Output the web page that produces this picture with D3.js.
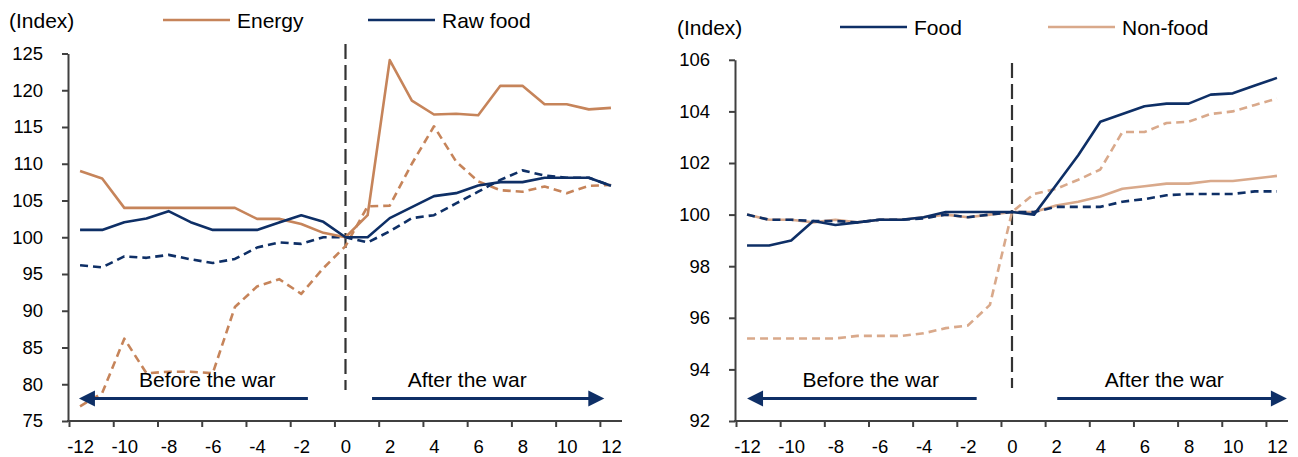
<!DOCTYPE html>
<html>
<head>
<meta charset="utf-8">
<script src="https://cdn.jsdelivr.net/npm/d3@7"></script>
<style>
  html, body { margin: 0; padding: 0; background: #fff; }
  svg { display: block; font-family: "Liberation Sans", Arial, sans-serif; }
</style>
</head>
<body>
<svg id="chart" width="1298" height="457"></svg>
<script>
// ---------- DATA ----------
const months = d3.range(-12, 13);               // -12 .. 12
const tickMonths = d3.range(-12, 13, 2);

// Left panel
const energy       = [109, 108, 104, 104, 104, 104, 104, 104, 102.5, 102.5, 101.8, 100.6, 100, 103, 124.1, 118.6, 116.7, 116.8, 116.6, 120.6, 120.6, 118.1, 118.1, 117.4, 117.6];
const energyDashed = [77, 78.8, 86.2, 81.5, 81.7, 81.7, 81.5, 90.5, 93.3, 94.3, 92.3, 95.8, 98.8, 104.2, 104.3, 110, 115.1, 110.3, 107.6, 106.4, 106.2, 106.9, 106.0, 107.0, 107.1];
const rawFood      = [101, 101, 102.05, 102.55, 103.55, 102.05, 101, 101, 101, 102, 103, 102.1, 100, 100, 102.6, 104.1, 105.6, 106, 107.05, 107.5, 107.5, 108.1, 108.1, 108.1, 107];
const rawFoodDashed= [96.2, 95.9, 97.4, 97.2, 97.6, 97.0, 96.5, 97.05, 98.6, 99.3, 99.1, 100, 100, 99.3, 100.8, 102.6, 103.0, 104.6, 106.2, 107.8, 109.1, 108.4, 108.1, 108.1, 107];
const leftYTicks   = [75, 80, 85, 90, 95, 100, 105, 110, 115, 120, 125];

// Right panel
const food          = [98.8, 98.8, 99.0, 99.75, 99.6, 99.7, 99.8, 99.8, 99.9, 100.1, 100.1, 100.1, 100.1, 100.0, 101.15, 102.3, 103.6, 103.9, 104.2, 104.3, 104.3, 104.65, 104.7, 105.0, 105.3];
const foodDashed    = [100.0, 99.8, 99.8, 99.75, 99.75, 99.7, 99.8, 99.8, 99.85, 100.0, 99.9, 100.0, 100.1, 100.1, 100.3, 100.3, 100.3, 100.5, 100.6, 100.75, 100.8, 100.8, 100.8, 100.9, 100.9];
const nonFood       = [100.0, 99.8, 99.8, 99.7, 99.8, 99.7, 99.8, 99.8, 99.9, 100.0, 99.9, 100.0, 100.1, 100.1, 100.35, 100.5, 100.7, 101.0, 101.1, 101.2, 101.2, 101.3, 101.3, 101.4, 101.5];
const nonFoodDashed = [95.2, 95.2, 95.2, 95.2, 95.2, 95.3, 95.3, 95.3, 95.4, 95.6, 95.7, 96.5, 100.1, 100.8, 101.0, 101.35, 101.75, 103.2, 103.2, 103.55, 103.6, 103.9, 104.0, 104.25, 104.5];
const rightYTicks   = [92, 94, 96, 98, 100, 102, 104, 106];

const NAVY = "#0E2F66", ORANGE = "#C6845A", TAN = "#D9A98B", AXIS = "#404040";
const FONT = "'Liberation Sans', Arial, sans-serif";

const svg = d3.select("#chart");

function panel(cfg) {
  const g = svg.append("g");
  const x = d3.scaleLinear().domain([-12.5, 12.5]).range([cfg.x0, cfg.x1]);
  const y = d3.scaleLinear().domain(cfg.yDomain).range([cfg.yBottom, cfg.yTop]);

  // vertical dashed separator at month 0
  g.append("line")
    .attr("x1", x(0)).attr("x2", x(0))
    .attr("y1", cfg.vTop).attr("y2", cfg.vBottom)
    .attr("stroke", "#333").attr("stroke-width", 2.2)
    .attr("stroke-dasharray", "15,6");

  // series
  const line = d3.line().x((d, i) => x(months[i])).y(d => y(d));
  cfg.series.forEach(s => {
    g.append("path").datum(s.values)
      .attr("d", line).attr("fill", "none")
      .attr("stroke", s.color).attr("stroke-width", 2.6)
      .attr("stroke-linejoin", "round")
      .attr("stroke-dasharray", s.dash ? "8,5" : null);
  });

  // y axis
  const ya = g.append("g").attr("transform", `translate(${cfg.x0 - 1},0)`)
    .call(d3.axisLeft(y).tickValues(cfg.yTicks).tickSize(6).tickSizeOuter(0).tickPadding(19).tickFormat(d => String(d)));
  ya.select(".domain").attr("stroke", AXIS).attr("stroke-width", 2);
  ya.selectAll(".tick line").attr("stroke", AXIS).attr("stroke-width", 2);
  ya.selectAll("text").attr("font-size", 18.5).attr("fill", "#000").attr("font-family", FONT);

  // x axis: tick marks at category boundaries
  const xa = g.append("g").attr("transform", `translate(0,${cfg.yBottom})`)
    .call(d3.axisBottom(x).tickValues(tickMonths.map(m => m - 0.5)).tickSize(6).tickSizeOuter(0).tickFormat(""));
  xa.select(".domain").attr("stroke", AXIS).attr("stroke-width", 2)
    .attr("d", `M${cfg.x0 - 2},0H${cfg.x1}`);
  xa.selectAll(".tick line").attr("stroke", AXIS).attr("stroke-width", 2);
  // labels at category centres (plain hyphen minus)
  const xl = g.append("g").attr("transform", `translate(0,${cfg.yBottom})`)
    .call(d3.axisBottom(x).tickValues(tickMonths).tickSize(0).tickPadding(19).tickFormat(d => String(d)));
  xl.select(".domain").remove();
  xl.selectAll("text").attr("font-size", 18.5).attr("fill", "#000").attr("font-family", FONT);

  // (Index)
  g.append("text").attr("x", cfg.idxX).attr("y", cfg.legY + 8)
    .attr("font-size", 21).text("(Index)");

  // legend
  cfg.legend.forEach(l => {
    g.append("line").attr("x1", l.x).attr("x2", l.x + 67)
      .attr("y1", cfg.legY).attr("y2", cfg.legY)
      .attr("stroke", l.color).attr("stroke-width", 2.6);
    g.append("text").attr("x", l.x + 74).attr("y", cfg.legY + 7.5)
      .attr("font-size", 21).text(l.label);
  });

  // arrows & annotations
  const ay = 398.5;
  function arrow(xFrom, xTip) {
    const dir = xTip > xFrom ? 1 : -1;
    g.append("line").attr("x1", xFrom).attr("x2", xTip - dir * 12)
      .attr("y1", ay).attr("y2", ay).attr("stroke", NAVY).attr("stroke-width", 3);
    g.append("path")
      .attr("d", `M${xTip},${ay} L${xTip - dir * 16},${ay - 8} L${xTip - dir * 16},${ay + 8} Z`)
      .attr("fill", NAVY);
  }
  const a = cfg.ann;
  arrow(x(a.beforeFrom), x(a.beforeTip));
  arrow(x(a.afterFrom), x(a.afterTip));
  g.append("text").attr("x", x(a.beforeText)).attr("y", 387).attr("text-anchor", "middle")
    .attr("font-size", 21).text("Before the war");
  g.append("text").attr("x", x(a.afterText)).attr("y", 387).attr("text-anchor", "middle")
    .attr("font-size", 21).text("After the war");
}

panel({
  x0: 69, x1: 622, yDomain: [75, 125], yBottom: 421, yTop: 53.5, yTicks: leftYTicks,
  vTop: 44, vBottom: 390, idxX: 9, legY: 20,
  ann: { beforeFrom: -1.7, beforeTip: -12.05, afterFrom: 1.2, afterTip: 11.7, beforeText: -6.25, afterText: 5.5 },
  series: [
    { values: energyDashed, color: ORANGE, dash: true },
    { values: rawFoodDashed, color: NAVY, dash: true },
    { values: energy, color: ORANGE, dash: false },
    { values: rawFood, color: NAVY, dash: false }
  ],
  legend: [
    { x: 163, color: ORANGE, label: "Energy" },
    { x: 368, color: NAVY, label: "Raw food" }
  ]
});

panel({
  x0: 736, x1: 1288, yDomain: [92, 106], yBottom: 421, yTop: 59.8, yTicks: rightYTicks,
  vTop: 63, vBottom: 388, idxX: 677, legY: 27,
  ann: { beforeFrom: -1.6, beforeTip: -12.0, afterFrom: 2.05, afterTip: 12.45, beforeText: -6.4, afterText: 6.9 },
  series: [
    { values: nonFoodDashed, color: TAN, dash: true },
    { values: nonFood, color: TAN, dash: false },
    { values: foodDashed, color: NAVY, dash: true },
    { values: food, color: NAVY, dash: false }
  ],
  legend: [
    { x: 840, color: NAVY, label: "Food" },
    { x: 1048, color: TAN, label: "Non-food" }
  ]
});
</script>
</body>
</html>
